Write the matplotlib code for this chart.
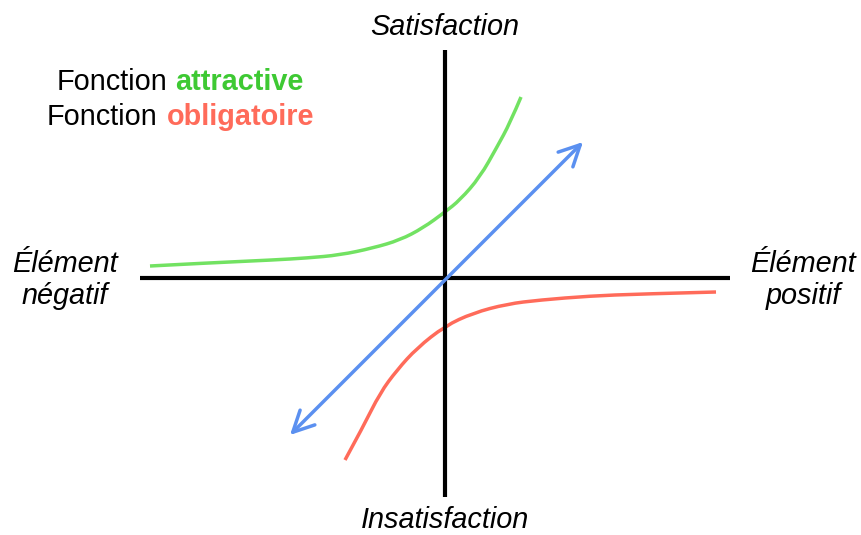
import numpy as np
import matplotlib.pyplot as plt
from matplotlib.path import Path
from matplotlib.patches import PathPatch

# Kano diagram, units: 1 unit = 100 px, origin at the axes crossing
green_x = [-2.95, -2.38, -1.72, -1.38, -1.05, -0.72, -0.45, -0.22, 0.0,
           0.15, 0.35, 0.52, 0.65, 0.76]
green_y = [0.12, 0.15, 0.18, 0.20, 0.23, 0.30, 0.38, 0.50, 0.66,
           0.78, 1.01, 1.31, 1.55, 1.81]

red_x = [-1.00, -0.82, -0.65, -0.48, -0.28, 0.0, 0.28, 0.62, 0.95, 1.45, 1.95, 2.71]
red_y = [-1.82, -1.49, -1.15, -0.92, -0.70, -0.48, -0.35, -0.26, -0.22, -0.18, -0.16, -0.14]

blue_start = (-1.55, -1.57)
blue_end = (1.38, 1.36)

x_axis = [-3.05, 2.85]
y_axis = [-2.19, 2.28]

GREEN_LINE = '#72e262'
GREEN_TEXT = '#3ec933'
RED = '#ff6b5a'
BLUE = '#5b90f0'


def smooth_path(xs, ys):
    # quadratic bezier: read points act as control points, midpoints as anchors
    pts = np.column_stack([xs, ys])
    verts = [pts[0]]
    codes = [Path.MOVETO]
    for i in range(1, len(pts) - 1):
        mid = (pts[i] + pts[i + 1]) / 2
        if i == len(pts) - 2:
            mid = pts[-1]
        verts += [pts[i], mid]
        codes += [Path.CURVE3, Path.CURVE3]
    return Path(verts, codes)


plt.rcParams['font.family'] = ['Liberation Sans', 'DejaVu Sans']

fig = plt.figure(figsize=(8.61, 5.35), dpi=100)
ax = fig.add_axes([0, 0, 1, 1])
ax.set_xlim(-4.45, 4.16)
ax.set_ylim(-2.57, 2.78)
ax.axis('off')

# axes
ax.plot(x_axis, [0, 0], color='black', lw=3, solid_capstyle='butt')
ax.plot([0, 0], y_axis, color='black', lw=3, solid_capstyle='butt')

# curves
ax.add_patch(PathPatch(smooth_path(green_x, green_y), fill=False,
                       edgecolor=GREEN_LINE, lw=2.5))
ax.add_patch(PathPatch(smooth_path(red_x, red_y), fill=False,
                       edgecolor=RED, lw=2.5))
ax.annotate('', xy=blue_end, xytext=blue_start,
            arrowprops=dict(arrowstyle='<->,head_length=1.5,head_width=0.75',
                            color=BLUE, lw=2.5, shrinkA=0, shrinkB=0,
                            joinstyle='round', capstyle='round'))

fs = 20.8
ax.text(0, 2.51, 'Satisfaction', ha='center', va='center', fontsize=fs, style='italic')
ax.text(0, -2.42, 'Insatisfaction', ha='center', va='center', fontsize=fs, style='italic')
ax.text(-3.80, -0.02, 'Élément\nnégatif', ha='center', va='center', fontsize=fs,
        style='italic', linespacing=1.15)
ax.text(3.58, -0.02, 'Élément\npositif', ha='center', va='center', fontsize=fs,
        style='italic', linespacing=1.15)

ax.text(-3.88, 1.96, 'Fonction', ha='left', va='center', fontsize=fs)
ax.text(-2.70, 1.96, 'attractive', ha='left', va='center', fontsize=fs,
        fontweight='bold', color=GREEN_TEXT)
ax.text(-3.98, 1.61, 'Fonction', ha='left', va='center', fontsize=fs)
ax.text(-2.78, 1.61, 'obligatoire', ha='left', va='center', fontsize=fs,
        fontweight='bold', color=RED)

fig.savefig('out.png', dpi=100)
